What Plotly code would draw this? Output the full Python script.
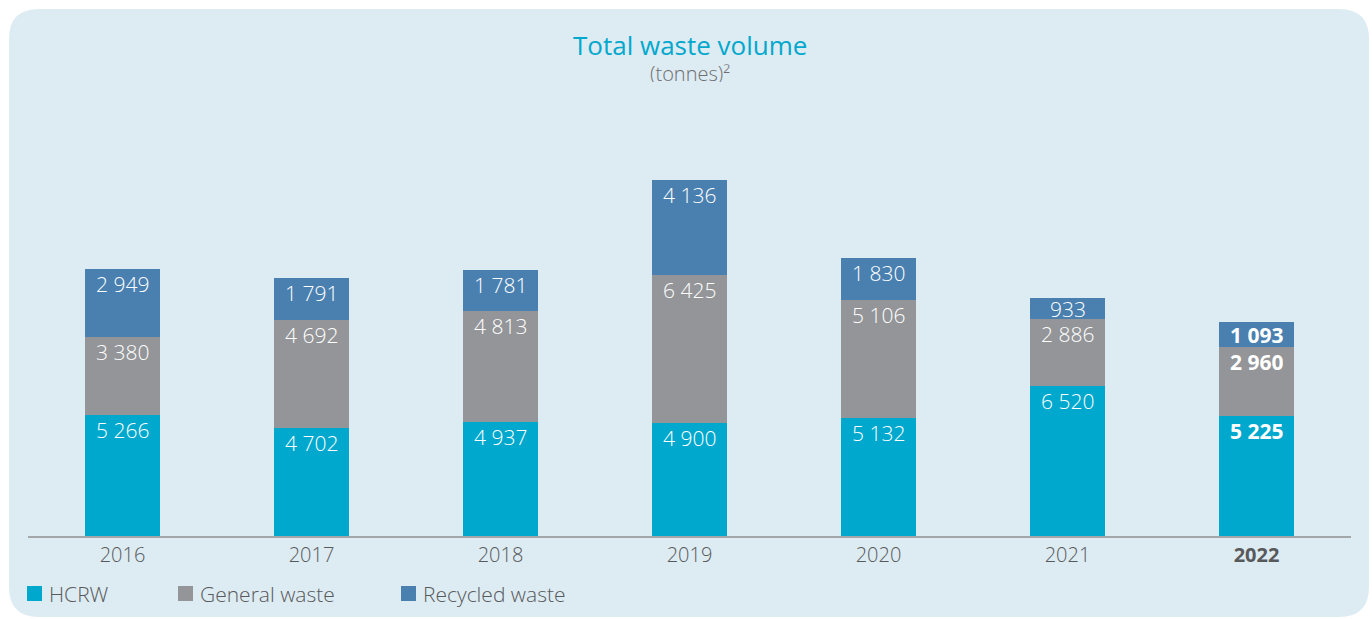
import plotly.graph_objects as go

# Annual waste volumes (tonnes)
years = ["2016", "2017", "2018", "2019", "2020", "2021", "2022"]
hcrw = [5266, 4702, 4937, 4900, 5132, 6520, 5225]
general_waste = [3380, 4692, 4813, 6425, 5106, 2886, 2960]
recycled_waste = [2949, 1791, 1781, 4136, 1830, 933, 1093]

series = [
    ("HCRW", hcrw, "#00a8cd"),
    ("General waste", general_waste, "#939598"),
    ("Recycled waste", recycled_waste, "#4a80b0"),
]

W, H = 1372, 619
ML, MR, MT, MB = 28, 21, 120, 83
PW, PH = W - ML - MR, H - MT - MB
Y_MAX = 18060
FONT = "Open Sans"


def px_x(px):
    return (px - ML) / PW


def px_y(py):
    return (H - MB - py) / PH


def fmt(v):
    return f"{v:,}".replace(",", " ")


fig = go.Figure()
for name, vals, color in series:
    fig.add_trace(go.Bar(
        x=years, y=vals, name=name, width=0.4,
        marker=dict(color=color, line=dict(width=0)),
        hoverinfo="x+y+name",
    ))

# Value labels near the top of each stacked segment
tonnes_per_px = Y_MAX / PH
annotations = []
base = [0] * len(years)
for name, vals, color in series:
    for i, v in enumerate(vals):
        top = base[i] + v
        offset = min(15 * tonnes_per_px, v / 2)
        last = i == len(years) - 1
        annotations.append(dict(
            x=i, y=top - offset, xref="x", yref="y",
            text=f"<b>{fmt(v)}</b>" if last else fmt(v),
            showarrow=False, yanchor="middle", xanchor="center",
            height=16, borderpad=0,
            font=dict(family=FONT, size=21, color="white",
                      weight=700 if last else 300),
        ))
        base[i] = top

# Title and unit
annotations.append(dict(
    x=0.5, y=px_y(45), xref="paper", yref="paper", text="Total waste volume",
    showarrow=False, xanchor="center", yanchor="middle", height=24, borderpad=0,
    font=dict(family=FONT, size=26, color="#00a8cd"),
))
annotations.append(dict(
    x=0.5, y=px_y(73), xref="paper", yref="paper",
    text="(tonnes)²", height=18, borderpad=0,
    showarrow=False, xanchor="center", yanchor="middle",
    font=dict(family=FONT, size=20, color="#6d6e71", weight=300),
))

# Legend row drawn along the bottom
shapes = []
legend_x = [27, 178, 401]
for (name, vals, color), lx in zip(series, legend_x):
    shapes.append(dict(
        type="rect", xref="paper", yref="paper",
        x0=px_x(lx), x1=px_x(lx + 15), y0=px_y(601), y1=px_y(586),
        fillcolor=color, line=dict(width=0),
    ))
    annotations.append(dict(
        x=px_x(lx + 20), y=px_y(593.5), xref="paper", yref="paper", text=name,
        showarrow=False, xanchor="left", yanchor="middle",
        font=dict(family=FONT, size=21, color="#58595b", weight=300),
    ))

# Rounded background panel
x0, x1, y0, y1, r = 9, 1369, 9, 617, 30


def P(px, py):
    return f"{px_x(px):.5f},{px_y(py):.5f}"


panel_path = (
    f"M{P(x0 + r, y0)} L{P(x1 - r, y0)} Q{P(x1, y0)} {P(x1, y0 + r)} "
    f"L{P(x1, y1 - r)} Q{P(x1, y1)} {P(x1 - r, y1)} "
    f"L{P(x0 + r, y1)} Q{P(x0, y1)} {P(x0, y1 - r)} "
    f"L{P(x0, y0 + r)} Q{P(x0, y0)} {P(x0 + r, y0)} Z"
)
shapes.insert(0, dict(type="path", xref="paper", yref="paper", path=panel_path,
                      fillcolor="#ddebf2", line=dict(width=0), layer="below"))

ticktext = years[:-1] + [f"<b>{years[-1]}</b>"]

fig.update_layout(
    width=W, height=H, autosize=False,
    margin=dict(l=ML, r=MR, t=MT, b=MB, pad=0),
    barmode="stack",
    showlegend=False,
    paper_bgcolor="white",
    plot_bgcolor="rgba(0,0,0,0)",
    font=dict(family=FONT, color="#58595b"),
    xaxis=dict(
        type="category", range=[-0.5, 6.5], tickmode="array",
        tickvals=years, ticktext=ticktext, ticks="",
        showline=True, linecolor="#a4a7aa", linewidth=1.5,
        showgrid=False, zeroline=False,
        tickfont=dict(family=FONT, size=20, color="#58595b", weight=300),
        fixedrange=True,
    ),
    yaxis=dict(range=[0, Y_MAX], visible=False, showgrid=False,
               zeroline=False, fixedrange=True),
    shapes=shapes,
    annotations=annotations,
)

fig.write_html("out.html")
